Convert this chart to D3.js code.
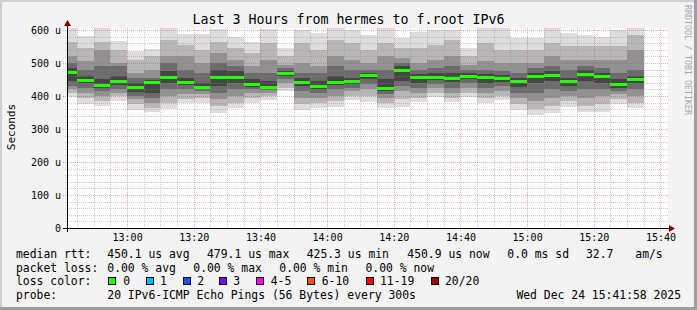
<!DOCTYPE html>
<html><head><meta charset="utf-8">
<script src="https://cdn.jsdelivr.net/npm/d3@7"></script>
<style>
html,body{margin:0;padding:0;background:#f3f3f3;}
svg{display:block;}
text{font-family:"DejaVu Sans Mono",monospace;}
</style>
</head><body>
<svg id="c" width="697" height="310"></svg>
<script>
// ---- data (values in microseconds) ----
const binEnds = ["12:45","12:50","12:55","13:00","13:05","13:10","13:15","13:20","13:25","13:30",
  "13:35","13:40","13:45","13:50","13:55","14:00","14:05","14:10","14:15","14:20",
  "14:25","14:30","14:35","14:40","14:45","14:50","14:55","15:00","15:05","15:10",
  "15:15","15:20","15:25","15:30","15:35"];
const medianRtt = [474,448,434,445,426,441,457,443,428,458,458,436,428,469,443,430,442,444,464,424,
  480,458,458,456,460,458,454,446,461,463,446,468,461,436,451];
const pingMax = [606,582,605,567,535,543,605,587,588,602,580,565,602,544,600,590,605,600,585,605,
  575,595,600,600,544,605,605,575,575,605,590,585,580,600,605];
const pingHi1 = [565,545,565,540,510,520,570,555,540,565,545,530,560,520,560,540,570,560,540,560,
  545,545,555,570,520,560,540,540,540,560,550,550,550,550,585];
const pingHi2 = [520,505,540,500,470,480,520,520,500,530,510,490,510,495,500,490,520,510,500,520,
  515,500,510,520,495,505,500,500,500,520,510,510,510,510,540];
const pingHi3 = [500,480,490,490,455,455,500,480,470,500,490,470,470,485,470,470,490,480,480,480,
  500,480,485,490,480,480,475,470,485,490,480,490,485,470,480];
const pingHi4 = [485,462,450,460,440,448,475,455,440,478,475,450,445,475,455,445,460,455,470,450,
  490,468,470,470,470,468,463,455,470,475,455,478,470,450,462];
const pingLo4 = [445,438,425,432,412,410,440,432,422,430,440,428,423,460,430,420,432,435,450,415,
  445,440,448,442,450,440,442,428,440,445,430,445,440,425,438];
const pingLo3 = [430,425,415,420,400,395,420,420,415,410,420,420,418,450,415,410,420,425,435,405,
  430,425,435,425,438,425,430,410,410,420,415,420,420,415,420];
const pingLo2 = [420,410,400,410,390,380,400,405,405,390,400,410,410,440,395,395,400,415,420,395,
  415,410,425,410,425,410,415,395,385,395,400,395,400,405,400];
const pingLo1 = [410,395,385,400,375,365,380,390,395,370,380,395,400,425,375,380,385,400,400,380,
  390,395,410,395,410,395,400,375,360,370,385,370,375,390,380];
const pingMin = [398,375,370,385,357,352,362,378,378,348,363,378,388,415,357,363,368,388,383,363,
  367,383,398,383,398,378,388,357,342,349,366,352,353,375,363];
const yTickValues = [0,100,200,300,400,500,600];
const yTickLabels = ["0","100 u","200 u","300 u","400 u","500 u","600 u"];
const xTickLabels = ["13:00","13:20","13:40","14:00","14:20","14:40","15:00","15:20","15:40"];
const lossLabels = ["0","1","2","3","4-5","6-10","11-19","20/20"];
const lossColors = ["#26ff00","#00b8ff","#0059ff","#7e00ff","#ff00ff","#ff5500","#ff0000","#a00000"];
const smokeShades = ["#dddddd","#b7b7b7","#919191","#6b6b6b","#454545"];

// ---- scales ----
const day = "2025-12-24 ";
const parse = d3.timeParse("%Y-%m-%d %H:%M:%S");
const tStart = parse(day + "12:41:58"), tEnd = parse(day + "15:41:58");
const L = 67, R = 667, T = 28, B = 228;
const x = d3.scaleTime().domain([tStart, tEnd]).range([L, R]);
const y = d3.scaleLinear().domain([0, 606.06]).range([B, T]);

const svg = d3.select("#c");
// background & frame
svg.append("rect").attr("width",697).attr("height",310).attr("fill","#f3f3f3");
svg.append("rect").attr("x",0).attr("y",0).attr("width",697).attr("height",2).attr("fill","#cfcfcf");
svg.append("rect").attr("x",0).attr("y",0).attr("width",2).attr("height",310).attr("fill","#cfcfcf");
svg.append("rect").attr("x",0).attr("y",307).attr("width",697).attr("height",3).attr("fill","#9e9e9e");
svg.append("rect").attr("x",694).attr("y",0).attr("width",3).attr("height",310).attr("fill","#9e9e9e");
// canvas
svg.append("rect").attr("x",L).attr("y",T).attr("width",R-L+1).attr("height",B-T).attr("fill","#ffffff");

// ---- smoke ----
const layersHi = [pingMax, pingHi1, pingHi2, pingHi3, pingHi4];
const layersLo = [pingMin, pingLo1, pingLo2, pingLo3, pingLo4];
const bins = binEnds.map((s,i) => {
  const end = parse(day + s + ":00");
  const start = d3.timeMinute.offset(end, -5);
  return {i, x0: Math.max(L, Math.round(x(start))), x1: Math.round(x(end))};
});
const gSmoke = svg.append("g").attr("shape-rendering","crispEdges");
layersHi.forEach((hi, k) => {
  gSmoke.selectAll(null).data(bins).enter().append("rect")
    .attr("x", d => d.x0)
    .attr("width", d => d.x1 - d.x0)
    .attr("y", d => Math.max(T, Math.round(y(hi[d.i]))))
    .attr("height", d => Math.round(y(layersLo[k][d.i])) - Math.max(T, Math.round(y(hi[d.i]))))
    .attr("fill", smokeShades[k]);
});

// ---- grid ----
const gGrid = svg.append("g").attr("shape-rendering","crispEdges");
const minorY = d3.range(20, 601, 20).filter(v => v % 100 !== 0);
gGrid.selectAll(null).data(minorY).enter().append("line")
  .attr("x1", L-2).attr("x2", R+2)
  .attr("y1", d => Math.round(y(d)) + 0.5).attr("y2", d => Math.round(y(d)) + 0.5)
  .attr("stroke","rgba(143,143,143,0.45)").attr("stroke-dasharray","1,1");
const minorX = x.ticks(d3.timeMinute.every(5)).filter(t => t.getMinutes() % 20 !== 0);
gGrid.selectAll(null).data(minorX).enter().append("line")
  .attr("y1", T).attr("y2", B+2)
  .attr("x1", d => Math.round(x(d)) + 0.5).attr("x2", d => Math.round(x(d)) + 0.5)
  .attr("stroke","rgba(143,143,143,0.45)").attr("stroke-dasharray","1,1");
gGrid.selectAll(null).data(yTickValues.slice(1)).enter().append("line")
  .attr("x1", L-4).attr("x2", R+2)
  .attr("y1", d => Math.round(y(d)) + 0.5).attr("y2", d => Math.round(y(d)) + 0.5)
  .attr("stroke","rgba(222,80,80,0.5)").attr("stroke-dasharray","1,1");
const majorX = xTickLabels.map(s => parse(day + s + ":00"));
gGrid.selectAll(null).data(majorX).enter().append("line")
  .attr("y1", T).attr("y2", B+4)
  .attr("x1", d => Math.round(x(d)) + 0.5).attr("x2", d => Math.round(x(d)) + 0.5)
  .attr("stroke","rgba(222,80,80,0.5)").attr("stroke-dasharray","1,1");

// ---- median ----
svg.append("g").attr("shape-rendering","crispEdges")
  .selectAll(null).data(bins).enter().append("rect")
  .attr("x", d => d.x0).attr("width", d => d.x1 - d.x0)
  .attr("y", d => Math.round(y(medianRtt[d.i])) - 1).attr("height", 3)
  .attr("fill", lossColors[0]);

// ---- axes ----
const gAx = svg.append("g").attr("shape-rendering","crispEdges");
gAx.append("line").attr("x1",L-4).attr("x2",R+3).attr("y1",B+0.5).attr("y2",B+0.5).attr("stroke","#000");
gAx.append("line").attr("x1",L+0.5).attr("x2",L+0.5).attr("y1",B+4).attr("y2",T-3).attr("stroke","#000");
svg.append("path").attr("d",`M${R+2},${B-3}L${R+8},${B+0.5}L${R+2},${B+4}Z`).attr("fill","#7f0000");
svg.append("path").attr("d",`M${L-3},${T-2}L${L+0.5},${T-8}L${L+4},${T-2}Z`).attr("fill","#7f0000");

svg.append("g").selectAll(null).data(yTickValues).enter().append("text")
  .attr("x", 61).attr("y", d => y(d) + 3.6)
  .attr("text-anchor","end").attr("font-size","10px").attr("fill","#000")
  .text((d,i) => yTickLabels[i]);
svg.append("g").selectAll(null).data(majorX).enter().append("text")
  .attr("x", d => x(d) + 0.5).attr("y", 240.5)
  .attr("text-anchor","middle").attr("font-size","10px").attr("fill","#000")
  .text((d,i) => xTickLabels[i]);

// ---- titles ----
svg.append("text").attr("x",348.5).attr("y",24).attr("text-anchor","middle")
  .attr("font-size","13.3px").attr("fill","#000").text("Last 3 Hours from hermes to f.root IPv6");
svg.append("text").attr("transform","translate(14.5,127) rotate(-90)").attr("text-anchor","middle")
  .attr("font-size","11px").attr("fill","#000").text("Seconds");
svg.append("text").attr("transform","translate(685,5) rotate(90)").attr("text-anchor","start")
  .attr("font-size","8.3px").attr("fill","#a8a8a8").text("RRDTOOL / TOBI OETIKER");

// ---- legend ----
const LF = "11.4px";
const legendItems = [
  [16,257.5,"median rtt:"],[107.3,257.5,"450.1 us avg"],[207,257.5,"479.1 us max"],
  [306.7,257.5,"425.3 us min"],[407.3,257.5,"450.9 us now"],[507.3,257.5,"0.0 ms sd"],
  [586,257.5,"32.7"],[635.3,257.5,"am/s"],
  [16,271.5,"packet loss:"],[107.3,271.5,"0.00 % avg"],[193.3,271.5,"0.00 % max"],
  [279.3,271.5,"0.00 % min"],[365.5,271.5,"0.00 % now"],
  [16,285,"loss color:"],
  [16,298.5,"probe:"],[107.3,298.5,"20 IPv6-ICMP Echo Pings (56 Bytes) every 300s"]
];
svg.append("g").selectAll(null).data(legendItems).enter().append("text")
  .attr("x", d => d[0]).attr("y", d => d[1]).attr("font-size",LF).attr("fill","#000")
  .style("white-space","pre").text(d => d[2]);
svg.append("text").attr("x",681).attr("y",298.5).attr("text-anchor","end")
  .attr("font-size",LF).attr("fill","#000").text("Wed Dec 24 15:41:58 2025");
const boxX = [108.5,146,183.5,219.5,256.5,307.5,366,431];
const textX = [123.3,160,197.3,233.3,270.7,321.7,380,445];
const gLoss = svg.append("g");
lossLabels.forEach((lab,i) => {
  gLoss.append("rect").attr("x",boxX[i]).attr("y",277.5).attr("width",7).attr("height",7)
    .attr("fill",lossColors[i]).attr("stroke","#000").attr("stroke-width",1)
    .attr("shape-rendering","crispEdges");
  gLoss.append("text").attr("x",textX[i]).attr("y",285).attr("font-size",LF)
    .attr("fill","#000").text(lab);
});
</script>
</body></html>
